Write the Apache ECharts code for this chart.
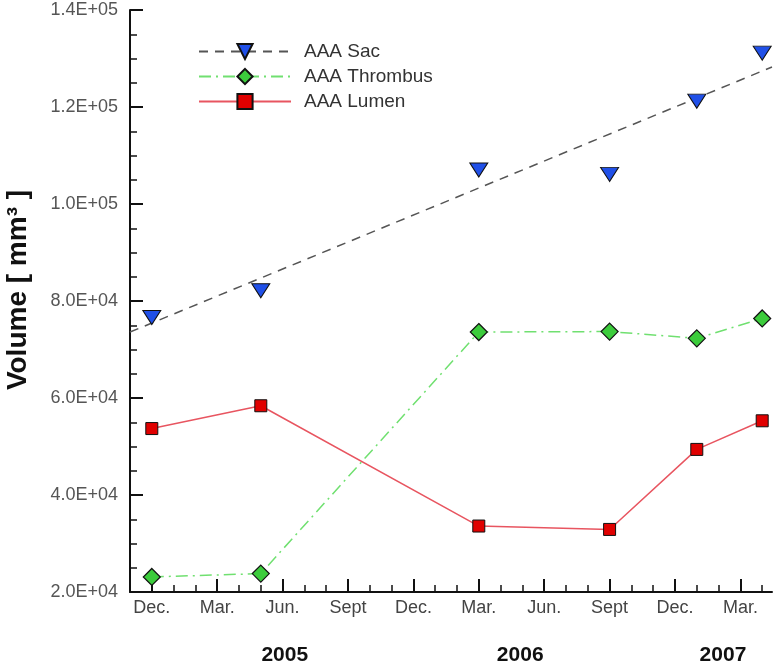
<!DOCTYPE html>
<html>
<head>
<meta charset="utf-8">
<script src="https://cdn.jsdelivr.net/npm/echarts@6/dist/echarts.min.js"></script>
<style>html,body{margin:0;padding:0;background:#fff;}#c{width:774px;height:669px;}</style>
</head>
<body>
<div id="c"></div>
<script>
// months counted from Dec. 2004 (0)
const months = [0, 5, 15, 21, 25, 28];
const sacValues = [76600, 82100, 107000, 106100, 121200, 131100];
const thrombusValues = [23100, 23800, 73600, 73700, 72300, 76400];
const lumenValues = [53700, 58400, 33600, 32900, 49400, 55300];
const sacTrendMonths = [-1, 28.45];
const sacTrendValues = [73600, 128250];
const tickMonths = [0, 3, 6, 9, 12, 15, 18, 21, 24, 27];
const tickLabels = ['Dec.', 'Mar.', 'Jun.', 'Sept', 'Dec.', 'Mar.', 'Jun.', 'Sept', 'Dec.', 'Mar.'];
const minorMonths = [-1,0,1,2,3,4,5,6,7,8,9,10,11,12,13,14,15,16,17,18,19,20,21,22,23,24,25,26,27,28];
const yearLabels = ['2005', '2006', '2007'];
const yearPositions = [6.1, 16.9, 26.2];

const pairs = (xs, ys) => xs.map((x, i) => [x, ys[i]]);
const fmtSci = v => {
  const e = Math.floor(Math.log10(v));
  const m = (v / Math.pow(10, e)).toFixed(1);
  return m + 'E+' + String(e).padStart(2, '0');
};
const FONT = "'Liberation Sans', Arial, sans-serif";
const XMIN = -1, XMAX = 28.45;

const chart = echarts.init(document.getElementById('c'));
chart.setOption({
  animation: false,
  backgroundColor: '#fff',
  grid: { left: 130, right: 2, top: 10, bottom: 77, containLabel: false, outerBoundsMode: 'none' },
  legend: {
    orient: 'vertical',
    left: 193, top: 37,
    itemWidth: 92, itemHeight: 19, itemGap: 6,
    data: ['AAA Sac', 'AAA Thrombus', 'AAA Lumen'],
    textStyle: { fontFamily: FONT, fontSize: 19, color: '#333', padding: [0, 0, 0, 8] },
    selectedMode: false
  },
  xAxis: [
    {
      type: 'value', min: XMIN, max: XMAX, position: 'bottom',
      axisLine: { show: true, onZero: false, lineStyle: { color: '#111', width: 2 } },
      axisTick: { show: true, inside: true, length: 13, customValues: tickMonths, lineStyle: { color: '#111', width: 2 } },
      axisLabel: {
        show: true, customValues: tickMonths, margin: 7,
        fontFamily: FONT, fontSize: 18, color: '#444',
        formatter: v => tickLabels[tickMonths.indexOf(Math.round(v))] || ''
      },
      splitLine: { show: false }
    },
    {
      type: 'value', min: XMIN, max: XMAX, position: 'bottom',
      axisLine: { show: false, onZero: false },
      axisTick: { show: true, inside: true, length: 7, customValues: minorMonths, lineStyle: { color: '#111', width: 1.5 } },
      axisLabel: { show: false },
      splitLine: { show: false }
    },
    {
      type: 'value', min: XMIN, max: XMAX, position: 'bottom',
      axisLine: { show: false, onZero: false },
      axisTick: { show: false },
      axisLabel: {
        show: true, customValues: yearPositions, margin: 53,
        fontFamily: FONT, fontSize: 21, fontWeight: 'bold', color: '#111',
        formatter: v => {
          let best = 0;
          yearPositions.forEach((p, i) => { if (Math.abs(p - v) < Math.abs(yearPositions[best] - v)) best = i; });
          return yearLabels[best];
        }
      },
      splitLine: { show: false }
    }
  ],
  yAxis: {
    type: 'value', min: 20000, max: 140000, interval: 20000,
    name: 'Volume [ mm³ ]', nameLocation: 'middle', nameGap: 98, nameRotate: 90,
    nameTextStyle: { fontFamily: FONT, fontSize: 28, fontWeight: 'bold', color: '#111', padding: [0, 0, 0, 22] },
    axisLine: { show: true, onZero: false, lineStyle: { color: '#111', width: 2 } },
    axisTick: { show: true, inside: true, length: 13, lineStyle: { color: '#111', width: 2 } },
    minorTick: { show: true, splitNumber: 4, length: 7, lineStyle: { color: '#111', width: 1.5 } },
    axisLabel: { margin: 12, fontFamily: FONT, fontSize: 18, color: '#555', formatter: fmtSci },
    splitLine: { show: false }
  },
  series: [
    {
      name: 'AAA Sac', type: 'line', xAxisIndex: 0,
      data: pairs(sacTrendMonths, sacTrendValues),
      showSymbol: false, symbol: 'triangle', symbolRotate: 180, symbolSize: [18, 14],
      itemStyle: { color: '#2050e8', borderColor: '#111', borderWidth: 1 },
      lineStyle: { color: '#555', width: 1.5, type: [9, 7] },
      z: 2
    },
    {
      name: 'AAA Thrombus', type: 'line', xAxisIndex: 0,
      data: pairs(months, thrombusValues),
      symbol: 'diamond', symbolSize: 17,
      itemStyle: { color: '#3ccc3c', borderColor: '#111', borderWidth: 1.2 },
      lineStyle: { color: '#70e070', width: 1.5, type: [12, 5, 2, 5] },
      z: 3
    },
    {
      name: 'AAA Lumen', type: 'line', xAxisIndex: 0,
      data: pairs(months, lumenValues),
      symbol: 'rect', symbolSize: 12,
      itemStyle: { color: '#e00000', borderColor: '#111', borderWidth: 1 },
      lineStyle: { color: '#e85560', width: 1.5 },
      z: 3
    },
    {
      name: 'AAA Sac', type: 'scatter', xAxisIndex: 0,
      data: pairs(months, sacValues),
      symbol: 'triangle', symbolRotate: 180, symbolSize: [18, 14],
      itemStyle: { color: '#2050e8', borderColor: '#111', borderWidth: 1, opacity: 1 },
      z: 4
    }
  ]
});
</script>
</body>
</html>
